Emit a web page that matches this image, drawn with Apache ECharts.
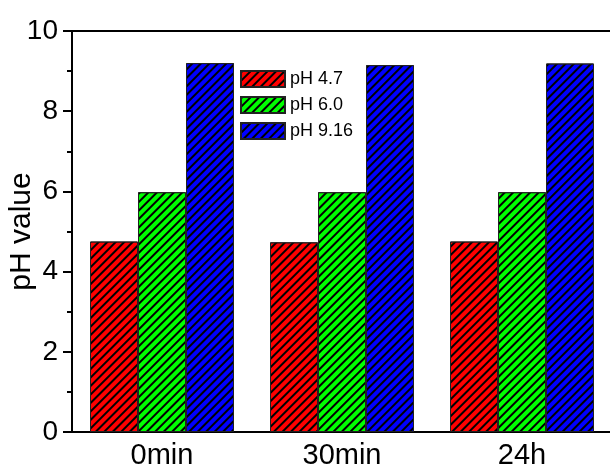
<!DOCTYPE html>
<html>
<head>
<meta charset="utf-8">
<script src="https://cdn.jsdelivr.net/npm/echarts@6/dist/echarts.min.js"></script>
<style>
html,body{margin:0;padding:0;background:#fff;}
#chart{width:610px;height:472px;}
</style>
</head>
<body>
<div id="chart"></div>
<script>
var categories = ['0min', '30min', '24h'];
var seriesNames = ['pH 4.7', 'pH 6.0', 'pH 9.16'];
var ph47 = [4.75, 4.73, 4.75];
var ph60 = [5.98, 5.98, 5.98];
var ph916 = [9.20, 9.15, 9.19];
var yTicks = [0, 2, 4, 6, 8, 10];
var colors = ['#ff0000', '#00ff00', '#0000ff'];

var FONT = '"Liberation Sans", Arial, sans-serif';
var decal = {
  symbol: 'rect',
  symbolSize: 1,
  color: '#000',
  dashArrayX: [1, 0],
  dashArrayY: [1.3, 3.2],
  rotation: -Math.PI / 4
};

function mk(name, data, color) {
  return {
    name: name,
    type: 'bar',
    data: data,
    barGap: '0%',
    barCategoryGap: '20%',
    itemStyle: {
      color: color,
      borderColor: '#222',
      borderWidth: 1,
      decal: decal
    }
  };
}

var chart = echarts.init(document.getElementById('chart'), null, {renderer: 'canvas'});
chart.setOption({
  animation: false,
  aria: {enabled: false},
  grid: {left: 72, right: -2, top: 31, bottom: 40, containLabel: false, outerBoundsMode: 'none'},
  legend: {
    orient: 'vertical',
    left: 240,
    top: 70,
    padding: 0,
    itemWidth: 44,
    itemHeight: 16,
    itemGap: 8,
    icon: 'rect',
    data: seriesNames,
    textStyle: {fontFamily: FONT, fontSize: 18, color: '#000'}
  },
  xAxis: [{
    type: 'category',
    data: categories,
    position: 'bottom',
    axisLine: {lineStyle: {color: '#000', width: 2}},
    axisTick: {alignWithLabel: true, length: 8, lineStyle: {color: '#000', width: 2}},
    axisLabel: {fontFamily: FONT, fontSize: 29, color: '#000', margin: 9}
  }, {
    type: 'category',
    data: categories,
    position: 'top',
    axisLine: {lineStyle: {color: '#000', width: 2}},
    axisTick: {show: false},
    axisLabel: {show: false}
  }],
  yAxis: {
    type: 'value',
    min: yTicks[0],
    max: yTicks[yTicks.length - 1],
    interval: 2,
    name: 'pH value',
    nameLocation: 'middle',
    nameGap: 35,
    nameMoveOverlap: false,
    nameTextStyle: {fontFamily: FONT, fontSize: 30, color: '#000'},
    axisLine: {show: true, lineStyle: {color: '#000', width: 2}},
    axisTick: {show: true, length: 9, lineStyle: {color: '#000', width: 2}},
    minorTick: {show: true, splitNumber: 2, length: 5, lineStyle: {color: '#000', width: 2}},
    splitLine: {show: false},
    axisLabel: {fontFamily: FONT, fontSize: 28, color: '#000', margin: 14}
  },
  series: [
    mk(seriesNames[0], ph47, colors[0]),
    mk(seriesNames[1], ph60, colors[1]),
    mk(seriesNames[2], ph916, colors[2])
  ]
});
</script>
</body>
</html>
